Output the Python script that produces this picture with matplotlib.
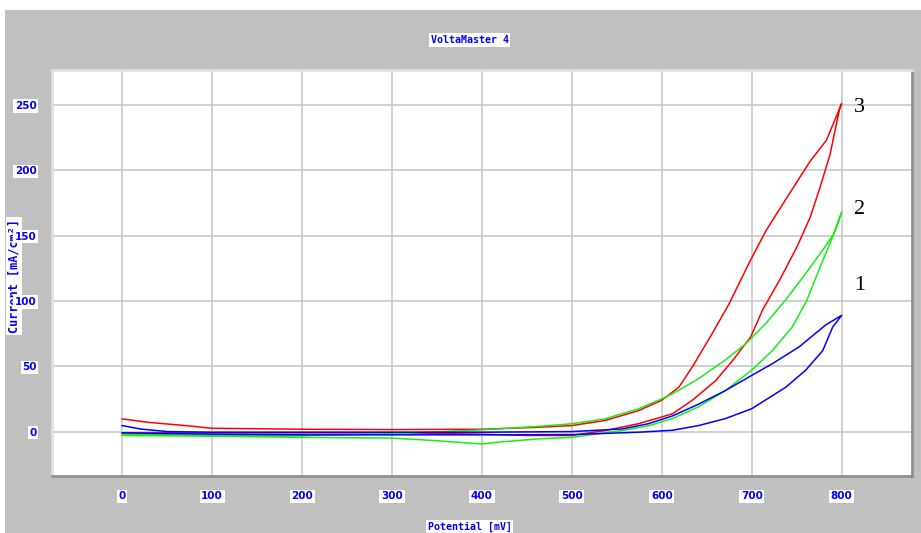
import matplotlib
matplotlib.use("Agg")
import matplotlib.pyplot as plt
from matplotlib.patches import Rectangle

# potential (mV) / current density (mA/cm2)
# each curve: outer branch 0 -> 800 mV, then inner branch 800 -> 0 mV
red_out_mv = [0, 30, 70, 100, 200, 300, 400, 463, 500, 537, 574, 600, 619, 634, 656, 675, 697, 716, 739, 765, 783, 800]
red_out_ma = [9.7, 7, 4.6, 2.5, 1.8, 1.5, 1.8, 3.3, 4.6, 8.5, 16, 24, 34, 49.5, 75, 98, 129, 154, 179, 207, 223, 251]
red_in_mv = [800, 798, 787, 776, 765, 750, 731, 712, 699, 679, 660, 634, 612, 574, 537, 500, 450, 400, 300, 200, 100, 0]
red_in_ma = [251, 248, 212, 187, 164, 141, 116, 93, 72.6, 54.6, 39, 24, 13.6, 6, 0.8, -3, -3, -2, -1, -1, -1, -1]

green_out_mv = [0, 100, 200, 300, 400, 463, 500, 537, 574, 600, 612, 641, 671, 693, 716, 738, 760, 779, 791, 800]
green_out_ma = [-2, -3, -3, -1.8, 1.3, 4, 6, 9.7, 17.4, 25, 29, 40.5, 55, 67, 83, 101, 121, 139, 151, 168]
green_in_mv = [800, 794, 784, 776, 761, 745, 723, 700, 671, 641, 612, 586, 556, 500, 463, 420, 400, 350, 300, 200, 100, 0]
green_in_ma = [168, 156, 139, 126, 100, 80, 62, 47, 31.5, 19, 10, 4.6, 0.8, -4.4, -5.6, -8, -9.5, -7, -5, -4.4, -3.5, -3]

blue_out_mv = [0, 20, 50, 100, 300, 400, 500, 556, 585, 612, 641, 671, 700, 723, 753, 782, 800]
blue_out_ma = [4.6, 2, 0, -0.5, -0.5, -0.5, 0, 2, 6, 12, 21, 31.5, 43, 52, 65, 81.5, 89]
blue_in_mv = [800, 790, 779, 760, 738, 700, 671, 641, 612, 574, 500, 400, 300, 200, 100, 0]
blue_in_ma = [89, 80, 62, 47, 34, 17.5, 10, 4.6, 1, -0.5, -2.3, -2.5, -2.5, -2.5, -2, -1]

curve_labels = ["3", "2", "1"]
label_mv = [820, 820, 820]
label_ma = [248, 170, 112]

x_ticks = [0, 100, 200, 300, 400, 500, 600, 700, 800]
y_ticks = [0, 50, 100, 150, 200, 250]

BLUE = "#0000ff"
box = dict(facecolor="white", edgecolor="none", pad=1.2)

fig = plt.figure(figsize=(9.21, 5.33), dpi=100)
fig.patch.set_facecolor("white")
fig.patches.append(Rectangle((0.005, 0), 0.995, 0.981, transform=fig.transFigure,
                             facecolor="#c0c0c0", edgecolor="none", zorder=-10))

ax = fig.add_axes([0.0565, 0.107, 0.9335, 0.762])
ax.set_facecolor("white")

ax.plot(red_out_mv + red_in_mv, red_out_ma + red_in_ma, color="#ff0000", lw=1.1)
ax.plot(green_out_mv + green_in_mv, green_out_ma + green_in_ma, color="#14f014", lw=1.1)
ax.plot(blue_out_mv + blue_in_mv, blue_out_ma + blue_in_ma, color="#0000ff", lw=1.1)

for t, x, y in zip(curve_labels, label_mv, label_ma):
    ax.text(x, y, t, fontsize=16, family="Liberation Serif", color="black",
            ha="center", va="center")

ax.set_xlim(-78, 878)
ax.set_ylim(-34, 277)
ax.set_xticks(x_ticks)
ax.set_yticks(y_ticks)
ax.grid(True, color="#c8c8c8", lw=1.2)
ax.set_axisbelow(True)
ax.tick_params(length=0, colors=BLUE, labelsize=7.5)
ax.tick_params(axis="x", pad=11)
ax.tick_params(axis="y", pad=11)
for lab in ax.get_xticklabels() + ax.get_yticklabels():
    lab.set_fontweight("bold")
    lab.set_bbox(box)

for side in ["top", "left"]:
    ax.spines[side].set_color("#e0e0e0")
    ax.spines[side].set_linewidth(2)
for side in ["bottom", "right"]:
    ax.spines[side].set_color("#909090")
    ax.spines[side].set_linewidth(2)

mono = "DejaVu Sans Mono"
fig.text(0.51, 0.925, "VoltaMaster 4", color=BLUE, fontsize=7.2, fontweight="bold",
         family=mono, ha="center", va="center", bbox=box)
fig.text(0.51, 0.012, "Potential [mV]", color=BLUE, fontsize=7.2, fontweight="bold",
         family=mono, ha="center", va="center", bbox=box)
# axis title sits under the tick labels, as in the reference
ax.text(0.0155, 0.482, "Current [mA/cm²]", transform=fig.transFigure, clip_on=False,
        color=BLUE, fontsize=8.5, fontweight="bold", family=mono, zorder=0.2,
        ha="center", va="center", rotation=90, bbox=box)

fig.savefig("out.png", dpi=100)
